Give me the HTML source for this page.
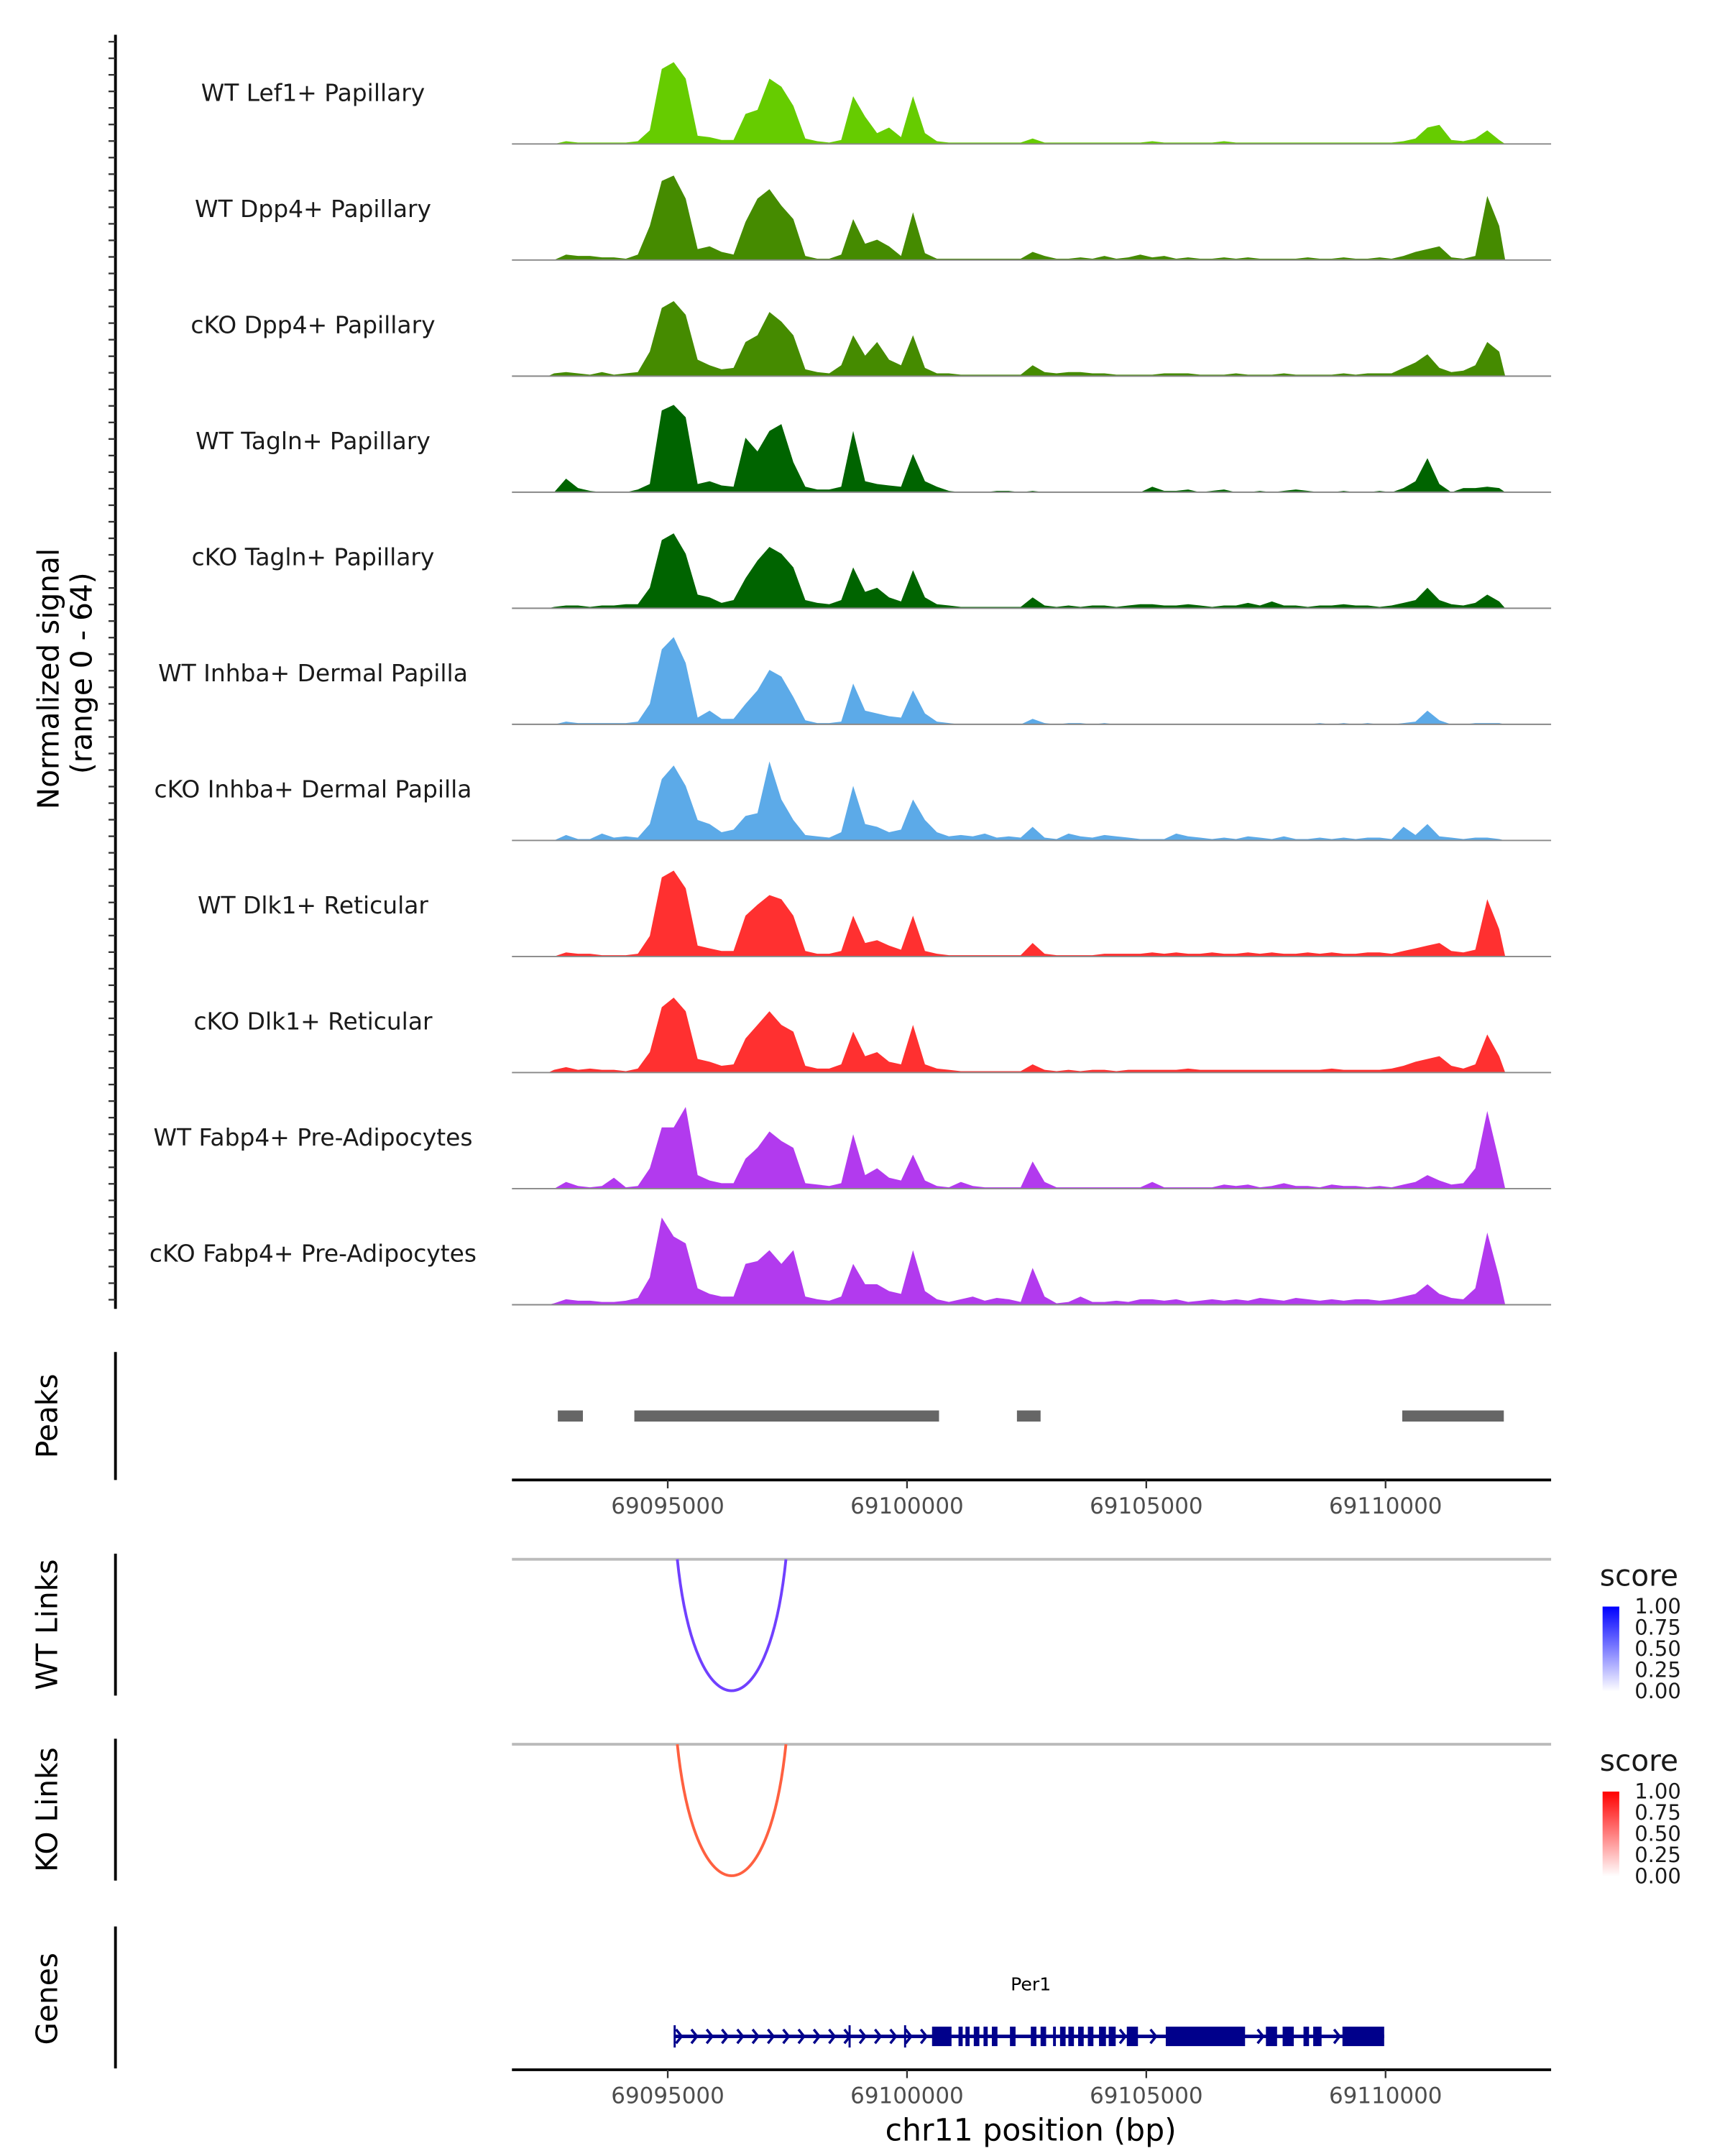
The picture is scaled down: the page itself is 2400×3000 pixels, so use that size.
<!DOCTYPE html>
<html><head><meta charset="utf-8"><style>
html,body{margin:0;padding:0;background:#fff}
svg{display:block}
text{font-family:"DejaVu Sans","Liberation Sans",sans-serif}
</style></head><body>
<svg id="chart" xmlns="http://www.w3.org/2000/svg" width="2400" height="3000" viewBox="0 0 1240 1550"></svg>
<script>
const binStart = 69092500;
const binSize = 250;
const trackLabels = ["WT Lef1+ Papillary","WT Dpp4+ Papillary","cKO Dpp4+ Papillary","WT Tagln+ Papillary","cKO Tagln+ Papillary","WT Inhba+ Dermal Papilla","cKO Inhba+ Dermal Papilla","WT Dlk1+ Reticular","cKO Dlk1+ Reticular","WT Fabp4+ Pre-Adipocytes","cKO Fabp4+ Pre-Adipocytes"];
const trackColors = ["#66cc00","#458b00","#458b00","#006400","#006400","#5caae8","#5caae8","#ff3030","#ff3030","#b23aee","#b23aee"];
const sigLef1WT = [0,2,1,1,1,1,1,2,10,55, 60,48,6,5,3,3,22,25,48,42, 28,4,2,1,3,35,20,8,12,5, 35,8,2,1,1,1,1,1,1,1, 4,1,1,1,1,1,1,1,1,1, 2,1,1,1,1,1,2,1,1,1, 1,1,1,1,1,1,1,1,1,1, 1,2,4,12,14,3,2,4,10,3];
const sigDpp4WT = [0,4,3,3,2,2,1,4,25,58, 62,45,8,10,6,4,28,45,52,40, 30,3,1,1,4,30,12,15,10,3, 35,5,1,1,1,1,1,1,1,1, 6,3,1,1,2,1,3,1,2,4, 2,3,1,2,1,1,2,1,2,1, 1,1,1,2,1,1,2,1,1,2, 1,3,6,8,10,2,1,3,47,25];
const sigDpp4KO = [2,3,2,1,3,1,2,3,18,50, 55,45,12,8,5,6,25,30,47,40, 30,5,3,2,8,30,15,25,12,8, 30,6,2,2,1,1,1,1,1,1, 8,3,2,3,3,2,2,1,1,1, 1,2,2,2,1,1,1,2,1,1, 1,2,1,1,1,1,2,1,2,2, 2,6,10,16,6,3,4,8,25,18];
const sigTaglnWT = [0,10,3,1,0,0,0,2,6,60, 64,55,6,8,5,4,40,30,45,50, 22,4,2,2,4,45,8,6,5,4, 28,8,4,1,0,0,0,1,1,0, 1,0,0,0,0,0,0,0,0,0, 4,1,1,2,0,1,2,0,0,1, 0,1,2,1,0,0,1,0,0,1, 0,3,8,25,6,0,3,3,4,3];
const sigTaglnKO = [1,2,2,1,2,2,3,3,15,50, 55,40,10,8,4,6,22,35,45,40, 30,6,4,3,6,30,12,15,8,5, 28,8,3,2,1,1,1,1,1,1, 8,2,1,2,1,2,2,1,2,3, 3,2,2,3,2,1,2,2,4,2, 5,2,2,1,2,2,3,2,2,1, 2,4,6,15,6,3,2,4,10,5];
const sigInhbaWT = [0,2,1,1,1,1,1,2,15,55, 65,45,5,10,4,4,15,25,40,35, 20,3,1,1,2,30,10,8,6,5, 25,8,2,1,0,0,0,0,0,0, 4,1,0,1,1,0,1,0,0,0, 0,0,0,0,0,0,0,0,0,0, 0,0,0,0,1,0,1,0,1,0, 0,1,2,10,3,0,0,1,1,1];
const sigInhbaKO = [0,4,1,1,5,2,3,2,12,45, 55,40,15,12,6,8,18,20,58,30, 15,4,3,2,6,40,12,10,6,8, 30,15,6,3,4,3,5,2,3,2, 10,2,1,5,3,2,4,3,2,1, 1,1,5,3,2,1,2,1,3,2, 1,3,1,1,2,1,2,1,2,2, 1,10,4,12,3,2,1,2,2,1];
const sigDlk1WT = [0,3,2,2,1,1,1,2,15,58, 63,50,8,6,4,4,30,38,45,42, 30,4,2,2,4,30,10,12,8,5, 30,4,2,1,1,1,1,1,1,1, 10,2,1,1,1,1,2,2,2,2, 3,2,3,2,2,3,2,2,3,2, 3,2,2,3,2,3,2,2,3,3, 2,4,6,8,10,4,3,5,42,20];
const sigDlk1KO = [2,4,2,3,2,2,1,3,15,48, 55,45,10,8,5,6,25,35,45,35, 30,5,3,3,6,30,12,15,8,6, 35,6,3,2,1,1,1,1,1,1, 6,2,1,2,1,2,2,1,2,2, 2,2,2,3,2,2,2,2,2,2, 2,2,2,2,2,3,2,2,2,2, 3,5,8,10,12,5,3,6,28,12];
const sigFabp4WT = [0,5,2,1,2,8,1,2,15,45, 45,60,10,6,4,4,22,30,42,35, 30,4,3,2,4,40,10,15,8,6, 25,6,2,1,5,2,1,1,1,1, 20,5,1,1,1,1,1,1,1,1, 5,1,1,1,1,1,3,2,3,1, 2,4,2,2,1,3,2,2,1,2, 1,3,5,10,6,3,4,15,57,20];
const sigFabp4KO = [1,4,3,3,2,2,3,5,20,65, 50,45,12,8,6,6,30,32,40,30, 40,6,4,3,6,30,15,15,10,8, 40,10,4,2,4,6,3,5,4,2, 27,6,1,2,6,2,2,3,2,4, 4,3,4,2,3,4,3,4,3,5, 4,3,5,4,3,4,3,4,4,3, 4,6,8,15,8,5,4,12,53,20];
const signals = [sigLef1WT,sigDpp4WT,sigDpp4KO,sigTaglnWT,sigTaglnKO,sigInhbaWT,sigInhbaKO,sigDlk1WT,sigDlk1KO,sigFabp4WT,sigFabp4KO];
const peakStarts = [69092703,69094302,69102297,69110349];
const peakEnds = [69093227,69100669,69102791,69112471];
const xTicks = [69095000,69100000,69105000,69110000];
const linkStart = 69095200, linkEnd = 69097470;
const geneStart = 69095145, geneEnd = 69109971;
const exonStarts = [5523,6076,6221,6395,6599,6773,7151,7587,7791,8052,8198,8372,8576,8779,9012,9215,9593,10407,12500,12849,13285,13488,14099];
const exonEnds = [5930,6163,6308,6512,6686,6890,7268,7704,7907,8111,8314,8488,8692,8895,9157,9361,9826,12064,12733,13082,13401,13663,14971];
const legendTicks = ["1.00","0.75","0.50","0.25","0.00"];

const svg = document.getElementById('chart');
const NS = 'http://www.w3.org/2000/svg';
function mk(tag, attrs, parent){const e=document.createElementNS(NS,tag);for(const k in attrs)e.setAttribute(k,attrs[k]);(parent||svg).appendChild(e);return e;}
function X(bp){return 480 + (bp - 69095000) * 0.0344;}
const trackH = 83.45, firstBase = 103.5;
function Y(v, base){return base - Math.min(v,64) * 0.98;}

let e = mk('line',{x1:83,y1:25,x2:83,y2:941,stroke:'#000','stroke-width':2});


for(let y=30;y<=940;y+=11.9){const t=mk('line',{x1:78,y1:y,x2:83,y2:y,stroke:'#333','stroke-width':1.2});

}
e = mk('text',{x:0,y:0,'font-size':21,'text-anchor':'middle',transform:'translate(42,488) rotate(-90)'});
e.textContent='Normalized signal';


e = mk('text',{x:0,y:0,'font-size':21,'text-anchor':'middle',transform:'translate(66,484) rotate(-90)'});
e.textContent='(range 0 - 64)';



signals.forEach((sig,i)=>{
  const base = firstBase + i*trackH;
  const g = mk('g',{});
  
  
  let d = 'M'+X(binStart).toFixed(1)+','+base;
  sig.forEach((v,j)=>{d+=' L'+X(binStart+(j+0.5)*binSize).toFixed(1)+','+Y(v,base).toFixed(1);});
  d += ' L'+X(binStart+sig.length*binSize).toFixed(1)+','+base+' Z';
  const p = mk('path',{d:d,fill:trackColors[i]},g);
  
  
  const bl = mk('line',{x1:368,y1:base,x2:1115,y2:base,stroke:'#888','stroke-width':1},g);
  
  
  const t = mk('text',{x:225,y:base-31,'font-size':17,'text-anchor':'middle',fill:'#1a1a1a'},g);
  t.textContent = trackLabels[i];
  
  
});

e = mk('line',{x1:83,y1:972,x2:83,y2:1064,stroke:'#000','stroke-width':2});


e = mk('text',{x:0,y:0,'font-size':21,'text-anchor':'middle',transform:'translate(41,1018) rotate(-90)'});
e.textContent='Peaks';


peakStarts.forEach((s,i)=>{const r=mk('rect',{x:X(s),y:1014,width:X(peakEnds[i])-X(s),height:8,fill:'#666'});

});
function xAxis(y, name){
  const a = mk('line',{x1:368,y1:y,x2:1115,y2:y,stroke:'#000','stroke-width':2});
  
  
  xTicks.forEach(t=>{
    const l=mk('line',{x1:X(t),y1:y,x2:X(t),y2:y+6,stroke:'#333','stroke-width':1.2});
    
    
    const tx=mk('text',{x:X(t),y:y+24,'font-size':16,'text-anchor':'middle',fill:'#4d4d4d'});
    tx.textContent=String(t);
    
    
  });
}
xAxis(1064,'peaks-x-axis');

function links(top, title, color, lo, name, gradId){
  let l = mk('line',{x1:83,y1:top-4,x2:83,y2:top+98,stroke:'#000','stroke-width':2});
  
  
  let t = mk('text',{x:0,y:0,'font-size':21,'text-anchor':'middle',transform:'translate(41,'+(top+47)+') rotate(-90)'});
  t.textContent=title;
  
  
  l = mk('line',{x1:368,y1:top,x2:1115,y2:top,stroke:'#bbb','stroke-width':2});
  
  
  const x1=X(linkStart), x2=X(linkEnd);
  const arc = mk('path',{d:`M${x1},${top} C${x1+13},${top+126} ${x2-13},${top+126} ${x2},${top}`,fill:'none',stroke:color,'stroke-width':2});
  
  
  const defs = mk('defs',{});
  const gr = mk('linearGradient',{id:gradId,x1:0,y1:1,x2:0,y2:0},defs);
  mk('stop',{offset:'0','stop-color':'#fff'},gr);
  mk('stop',{offset:'1','stop-color':lo},gr);
  t = mk('text',{x:1150,y:top+19,'font-size':21,fill:'#1a1a1a'});
  t.textContent='score';
  
  
  const bar = mk('rect',{x:1152,y:top+34,width:12,height:61,fill:'url(#'+gradId+')'});
  
  
  legendTicks.forEach((lt,i)=>{
    const yy = top+34+i*15.25;
    const tx = mk('text',{x:1175,y:yy+5,'font-size':15,fill:'#1a1a1a'});
    tx.textContent=lt;
    
    
  });
}
links(1121,'WT Links','#7040ff','#0000ff','wt-links','gwt');
links(1254,'KO Links','#ff6040','#ff0000','ko-links','gko');

e = mk('line',{x1:83,y1:1385,x2:83,y2:1487,stroke:'#000','stroke-width':2});


e = mk('text',{x:0,y:0,'font-size':21,'text-anchor':'middle',transform:'translate(41,1437) rotate(-90)'});
e.textContent='Genes';


e = mk('text',{x:741,y:1431,'font-size':13,'text-anchor':'middle',fill:'#000'});
e.textContent='Per1';


const gy=1464;
e = mk('line',{x1:X(geneStart),y1:gy,x2:X(geneEnd),y2:gy,stroke:'#00008b','stroke-width':2.5});


function inExon(x){for(let i=0;i<exonStarts.length;i++){if(x>=X(69095000+exonStarts[i])-3&&x<=X(69095000+exonEnds[i])+3)return true;}return false;}
for(let x=X(geneStart)+3;x<X(geneEnd)-3;x+=11){
  if(inExon(x))continue;
  const c=mk('path',{d:`M${x-2},${gy-5} L${x+2},${gy} L${x-2},${gy+5}`,fill:'none',stroke:'#00008b','stroke-width':1.8});
  
  
}
[geneStart,69098800,69099960].forEach(b=>{const l=mk('line',{x1:X(b),y1:gy-8,x2:X(b),y2:gy+8,stroke:'#00008b','stroke-width':1.5});

});
exonStarts.forEach((s,i)=>{
  const r=mk('rect',{x:X(69095000+s),y:gy-7,width:X(69095000+exonEnds[i])-X(69095000+s),height:14,fill:'#00008b'});
  
  
});
xAxis(1488,'genes-x-axis');
e = mk('text',{x:741,y:1539,'font-size':22,'text-anchor':'middle',fill:'#000'});
e.textContent='chr11 position (bp)';


</script>
</body></html>
